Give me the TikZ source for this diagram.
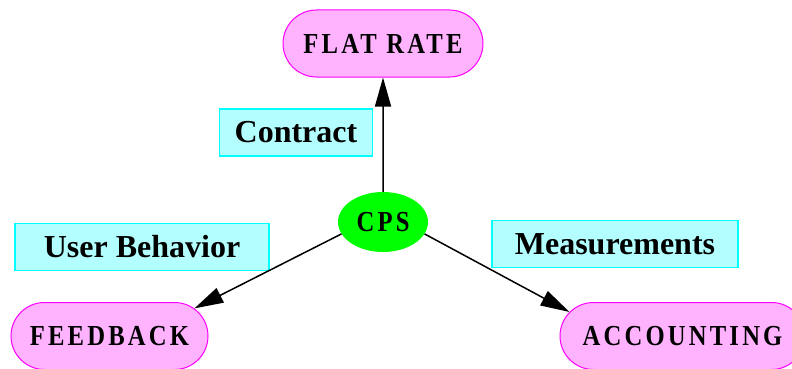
\documentclass[tikz,border=0pt]{standalone}
\usepackage{fontspec}
\setmainfont{Liberation Serif}
\usetikzlibrary{shapes.geometric,shapes.misc,arrows.meta}
\definecolor{pinkfill}{RGB}{255,179,255}
\definecolor{pinkline}{RGB}{255,0,255}
\definecolor{cyanfill}{RGB}{179,255,255}
\definecolor{cyanline}{RGB}{0,255,255}
\definecolor{cpsgreen}{RGB}{0,255,0}
\newfontfamily\capsfont[FakeStretch=0.85,LetterSpace=11]{Liberation Serif}
\begin{document}
\begin{tikzpicture}[x=1pt,y=1pt]
\tikzstyle{every node}+=[inner sep=0pt]
\tikzstyle{goal}=[rounded rectangle, draw=pinkline, fill=pinkfill, line width=1pt, minimum height=67pt, font=\capsfont\fontsize{29}{29}\selectfont\bfseries]
\tikzstyle{tag}=[rectangle, draw=cyanline, fill=cyanfill, line width=1.5pt, minimum height=47pt, font=\fontsize{32}{32}\selectfont\bfseries]
\tikzstyle{flow}=[black, line width=1.5pt, -{Triangle[length=29pt,width=16pt]}]
\useasboundingbox (0,0) rectangle (792,-369);
\node [goal, minimum width=200pt] (flat) at (383,-43.5) {FLAT RATE};
\node [ellipse, fill=cpsgreen, minimum width=90pt, minimum height=60pt, font=\capsfont\fontsize{29}{29}\selectfont\bfseries] (cps) at (383,-222) {CPS};
\node [goal, minimum width=197pt] (fb) at (109.5,-336) {FEEDBACK};
\node [goal, minimum width=245pt] (acc) at (682.5,-336) {ACCOUNTING};
\node [tag, minimum width=153pt] (contract) at (296,-132.5) {Contract};
\node [tag, minimum width=254pt] (user) at (142,-247) {User Behavior};
\node [tag, minimum width=246pt] (meas) at (615,-244) {Measurements};
\draw [flow] (cps) -- (flat);
\draw [flow] (cps.196) -- (fb.18);
\draw [flow] (cps.344) -- (acc.168);
\end{tikzpicture}
\end{document}
